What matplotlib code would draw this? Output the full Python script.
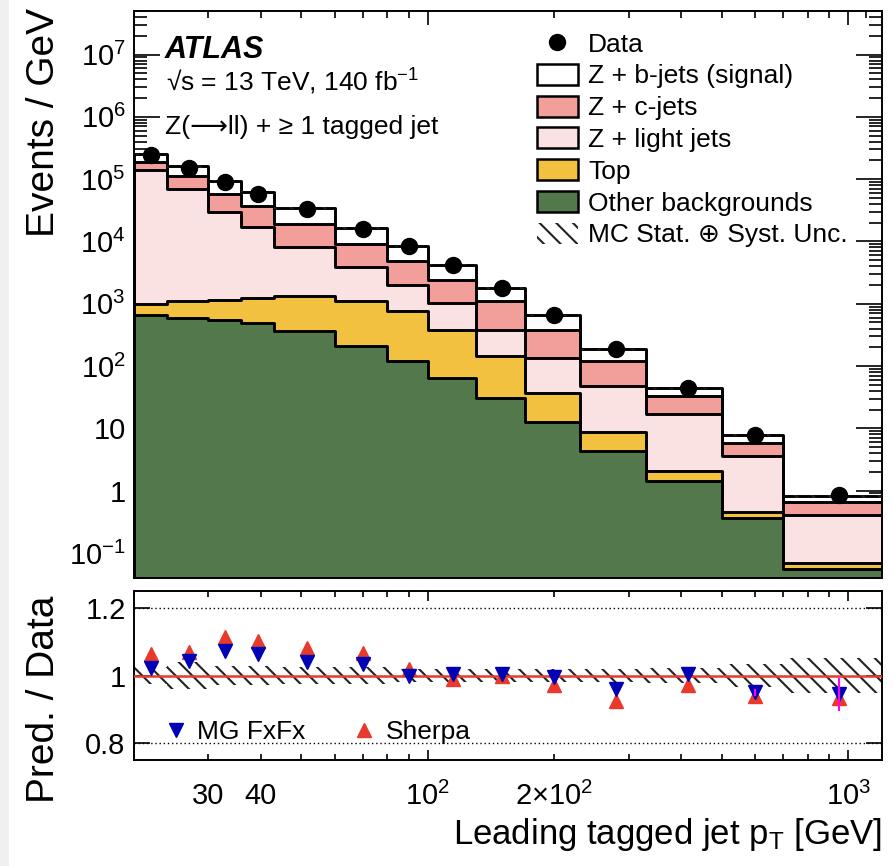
import numpy as np
import matplotlib
matplotlib.use("Agg")
import matplotlib.pyplot as plt
from matplotlib.patches import Patch, Rectangle
from matplotlib.lines import Line2D
from matplotlib.ticker import FixedLocator, FuncFormatter, NullFormatter

plt.rcParams['font.family'] = ['Liberation Sans', 'DejaVu Sans']
plt.rcParams['mathtext.fontset'] = 'custom'
plt.rcParams['mathtext.rm'] = 'Liberation Sans'
plt.rcParams['mathtext.it'] = 'Liberation Sans:italic'
plt.rcParams['mathtext.bf'] = 'Liberation Sans:bold'
plt.rcParams['mathtext.default'] = 'regular'
plt.rcParams['hatch.linewidth'] = 1.5

# ---------------- data ----------------
bin_edges = [20, 24, 30, 36, 43, 60, 80, 100, 130, 170, 230, 330, 500, 700, 1200]

other_bkg = [650, 600, 540, 490, 370, 212, 119, 64, 30.6, 12.4, 4.4, 1.44, 0.363, 0.055]
top_bkg   = [350, 490, 620, 745, 940, 908, 641, 319, 112, 24.5, 4.2, 0.59, 0.091, 0.014]
z_light   = [137000, 67900, 28840, 15760, 6790, 2780, 1260, 647, 240, 97.1, 39.7, 15.1, 3.09, 0.341]
z_c       = [52000, 44000, 28000, 20400, 11100, 5300, 2880, 1400, 707, 249, 70.7, 15.4, 2.26, 0.237]
z_b       = [59000, 47000, 37000, 25600, 15200, 7200, 3400, 1800, 700, 267, 66, 11.5, 1.9, 0.163]
data      = [240000, 151000, 88500, 58000, 33000, 16000, 8400, 4200, 1790, 665, 190, 44.4, 7.9, 0.86]
mc_unc    = [0.025, 0.04, 0.028, 0.028, 0.025, 0.025, 0.02, 0.02, 0.02, 0.02, 0.02, 0.022, 0.033, 0.052]

ratio_mg     = [1.023, 1.043, 1.072, 1.063, 1.040, 1.034, 1.000, 1.005, 1.006, 0.997, 0.961, 1.005, 0.951, 0.945]
ratio_sherpa = [1.063, 1.071, 1.113, 1.103, 1.082, 1.066, 1.020, 0.990, 1.000, 0.972, 0.926, 0.971, 0.939, 0.934]
ratio_mg_err = [0, 0, 0, 0, 0, 0, 0, 0, 0, 0, 0, 0, 0.01, 0.049]

labels_stack = ["Z + b-jets (signal)", "Z + c-jets", "Z + light jets", "Top", "Other backgrounds"]
colors_stack = ["#ffffff", "#f29e9b", "#f9e2e1", "#f3c140", "#52784b"]

# ---------------- figure ----------------
W, H = 894, 866
fig = plt.figure(figsize=(W / 100, H / 100), dpi=100)
fig.patches.append(Rectangle((0, 0), 9 / W, 1, transform=fig.transFigure,
                             facecolor="#f0f0f0", edgecolor="none", zorder=-10))

ax = fig.add_axes([134 / W, 1 - 577.7 / H, (881.7 - 134) / W, (577.7 - 11) / H])
rax = fig.add_axes([134 / W, 1 - 760 / H, (881.7 - 134) / W, (760 - 591) / H])

edges = np.array(bin_edges, dtype=float)
centers = 0.5 * (edges[:-1] + edges[1:])
comps = [np.array(other_bkg), np.array(top_bkg), np.array(z_light), np.array(z_c), np.array(z_b)]
comp_cols = colors_stack[::-1]
base = np.full(len(centers), 1e-5)
for vals, col in zip(comps, comp_cols):
    topv = base + vals
    ax.stairs(topv, edges, baseline=base, fill=True, facecolor=col,
              edgecolor="none", zorder=2)
    base = topv
total = base
# outlines incl. verticals
cum = np.full(len(centers), 1e-5)
for vals in comps:
    cum = cum + vals
    xs = np.repeat(edges, 2)[1:-1]
    ys = np.repeat(cum, 2)
    ax.plot(np.r_[edges[0], xs, edges[-1]], np.r_[1e-5, ys, 1e-5], color="black", lw=2.1, zorder=3)

unc = np.array(mc_unc)
ax.stairs(total * (1 + unc), edges, baseline=total * (1 - unc), fill=True,
          facecolor="none", edgecolor="#222222", hatch="\\\\", lw=0, zorder=4)
ax.plot(centers, data, "o", color="black", ms=11.5, zorder=6)

ax.set_xscale("log")
ax.set_yscale("log")
ax.set_xlim(20, 1200)
ax.set_ylim(0.04, 5e7)

def yfmt(v, pos):
    e = int(round(np.log10(v)))
    if e == 0:
        return "1"
    if e == 1:
        return "10"
    return "$10^{%d}$" % e

ax.yaxis.set_major_locator(FixedLocator([10.0 ** k for k in range(-1, 8)]))
ax.yaxis.set_minor_locator(FixedLocator([m * 10.0 ** k for k in range(-2, 8) for m in range(2, 10)]))
ax.yaxis.set_major_formatter(FuncFormatter(yfmt))
ax.yaxis.set_minor_formatter(NullFormatter())

xmajor = [100, 1000]
xminor = [m * 10.0 ** k for k in (1, 2) for m in range(2, 10)] + [1100]
for a in (ax, rax):
    a.xaxis.set_major_locator(FixedLocator(xmajor))
    a.xaxis.set_minor_locator(FixedLocator(xminor))
ax.xaxis.set_major_formatter(NullFormatter())
ax.xaxis.set_minor_formatter(NullFormatter())

ax.tick_params(axis="both", which="both", direction="in", top=True, right=True, labelsize=21, width=1.2)
ax.tick_params(axis="y", which="major", length=19, pad=6)
ax.tick_params(axis="y", which="minor", length=9.5)
ax.tick_params(axis="x", which="major", length=10)
ax.tick_params(axis="x", which="minor", length=5)
for s in ax.spines.values():
    s.set_linewidth(1.4)

ax.set_ylabel("Events / GeV", fontsize=28, loc="top")
ax.yaxis.set_label_coords(-0.096, 1.006)

# legend
handles = [Line2D([], [], marker="o", color="black", ls="none", ms=11.5)]
for lab, col in zip(labels_stack, colors_stack):
    handles.append(Patch(facecolor=col, edgecolor="black", lw=1.8))
handles.append(Patch(facecolor="none", edgecolor="#222222", lw=0, hatch="\\\\"))
leg_labels = ["Data"] + labels_stack + ["MC Stat. \u2295 Syst. Unc."]
ax.legend(handles, leg_labels, loc="upper left", bbox_to_anchor=(537 / W, 1 - 32 / H),
          bbox_transform=fig.transFigure, frameon=False, fontsize=19,
          handlelength=1.55, handleheight=0.85, labelspacing=0.27, handletextpad=0.38,
          borderpad=0, borderaxespad=0)

fig.text(165 / W, 1 - 50 / H, "ATLAS", fontsize=22, fontweight="bold", fontstyle="italic", va="center")
fig.text(166 / W, 1 - 82 / H, "\u221as = 13 TeV, 140 fb$^{-1}$", fontsize=19, va="center")
fig.text(165 / W, 1 - 127 / H, "Z(\u27f6ll) + \u2265 1 tagged jet", fontsize=19, va="center")

# ---------------- ratio panel ----------------
runc = np.array(mc_unc)
rax.stairs(1 + runc, edges, baseline=1 - runc, fill=True, facecolor="none",
           edgecolor="#222222", hatch="\\\\", lw=0, zorder=2)
rax.axhline(1.0, color="#e8392b", lw=1.8, zorder=3)
rax.axhline(1.2, color="black", lw=1.0, ls=(0, (1, 2)), zorder=1)
rax.axhline(0.8, color="black", lw=1.0, ls=(0, (1, 2)), zorder=1)
rax.plot(centers, ratio_sherpa, "^", color="#e8392b", ms=10, zorder=4)
rax.plot(centers, ratio_mg, "v", color="#0000b4", ms=10, zorder=5)
rax.errorbar(centers, ratio_mg, yerr=ratio_mg_err, fmt="none", ecolor="#ff00ff", elinewidth=1.5, zorder=6)

rax.set_xscale("log")
rax.set_xlim(20, 1200)
rax.set_ylim(0.751, 1.25)
rax.yaxis.set_major_locator(FixedLocator([0.8, 1.0, 1.2]))
rax.yaxis.set_major_formatter(FuncFormatter(lambda v, p: {0.8: "0.8", 1.0: "1", 1.2: "1.2"}.get(round(v, 1), "")))

xt_major = {100: "$10^{2}$", 1000: "$10^{3}$"}
xt_minor = {30: "30", 40: "40", 200: "2\u00d7$10^{2}$"}
rax.xaxis.set_major_formatter(FuncFormatter(lambda v, p: xt_major.get(int(round(v)), "")))
rax.xaxis.set_minor_formatter(FuncFormatter(lambda v, p: xt_minor.get(int(round(v)), "")))
rax.tick_params(axis="both", which="both", direction="in", top=True, right=True, labelsize=21, width=1.2)
rax.tick_params(axis="y", which="major", length=11.5, pad=6)
rax.tick_params(axis="x", which="major", length=7, pad=16)
rax.tick_params(axis="x", which="minor", length=4, pad=16)
for s in rax.spines.values():
    s.set_linewidth(1.4)

rax.set_ylabel("Pred. / Data", fontsize=28)
rax.yaxis.set_label_coords(-0.096, 0.36)
rax.set_xlabel("Leading tagged jet p$_{\\mathrm{T}}$ [GeV]", fontsize=25, loc="right")
rax.xaxis.set_label_coords(1.0, -0.33)

rh = [Line2D([], [], marker="v", color="#0000b4", ls="none", ms=10),
      Line2D([], [], marker="^", color="#e8392b", ls="none", ms=10)]
rax.legend(rh, ["MG FxFx", "Sherpa"], loc="center left", bbox_to_anchor=(168 / W, 1 - 732 / H),
           bbox_transform=fig.transFigure, frameon=False, fontsize=19, ncol=2,
           handlelength=0.6, handletextpad=0.5, columnspacing=1.93, borderpad=0, borderaxespad=0)

fig.savefig("out.png", dpi=100)
